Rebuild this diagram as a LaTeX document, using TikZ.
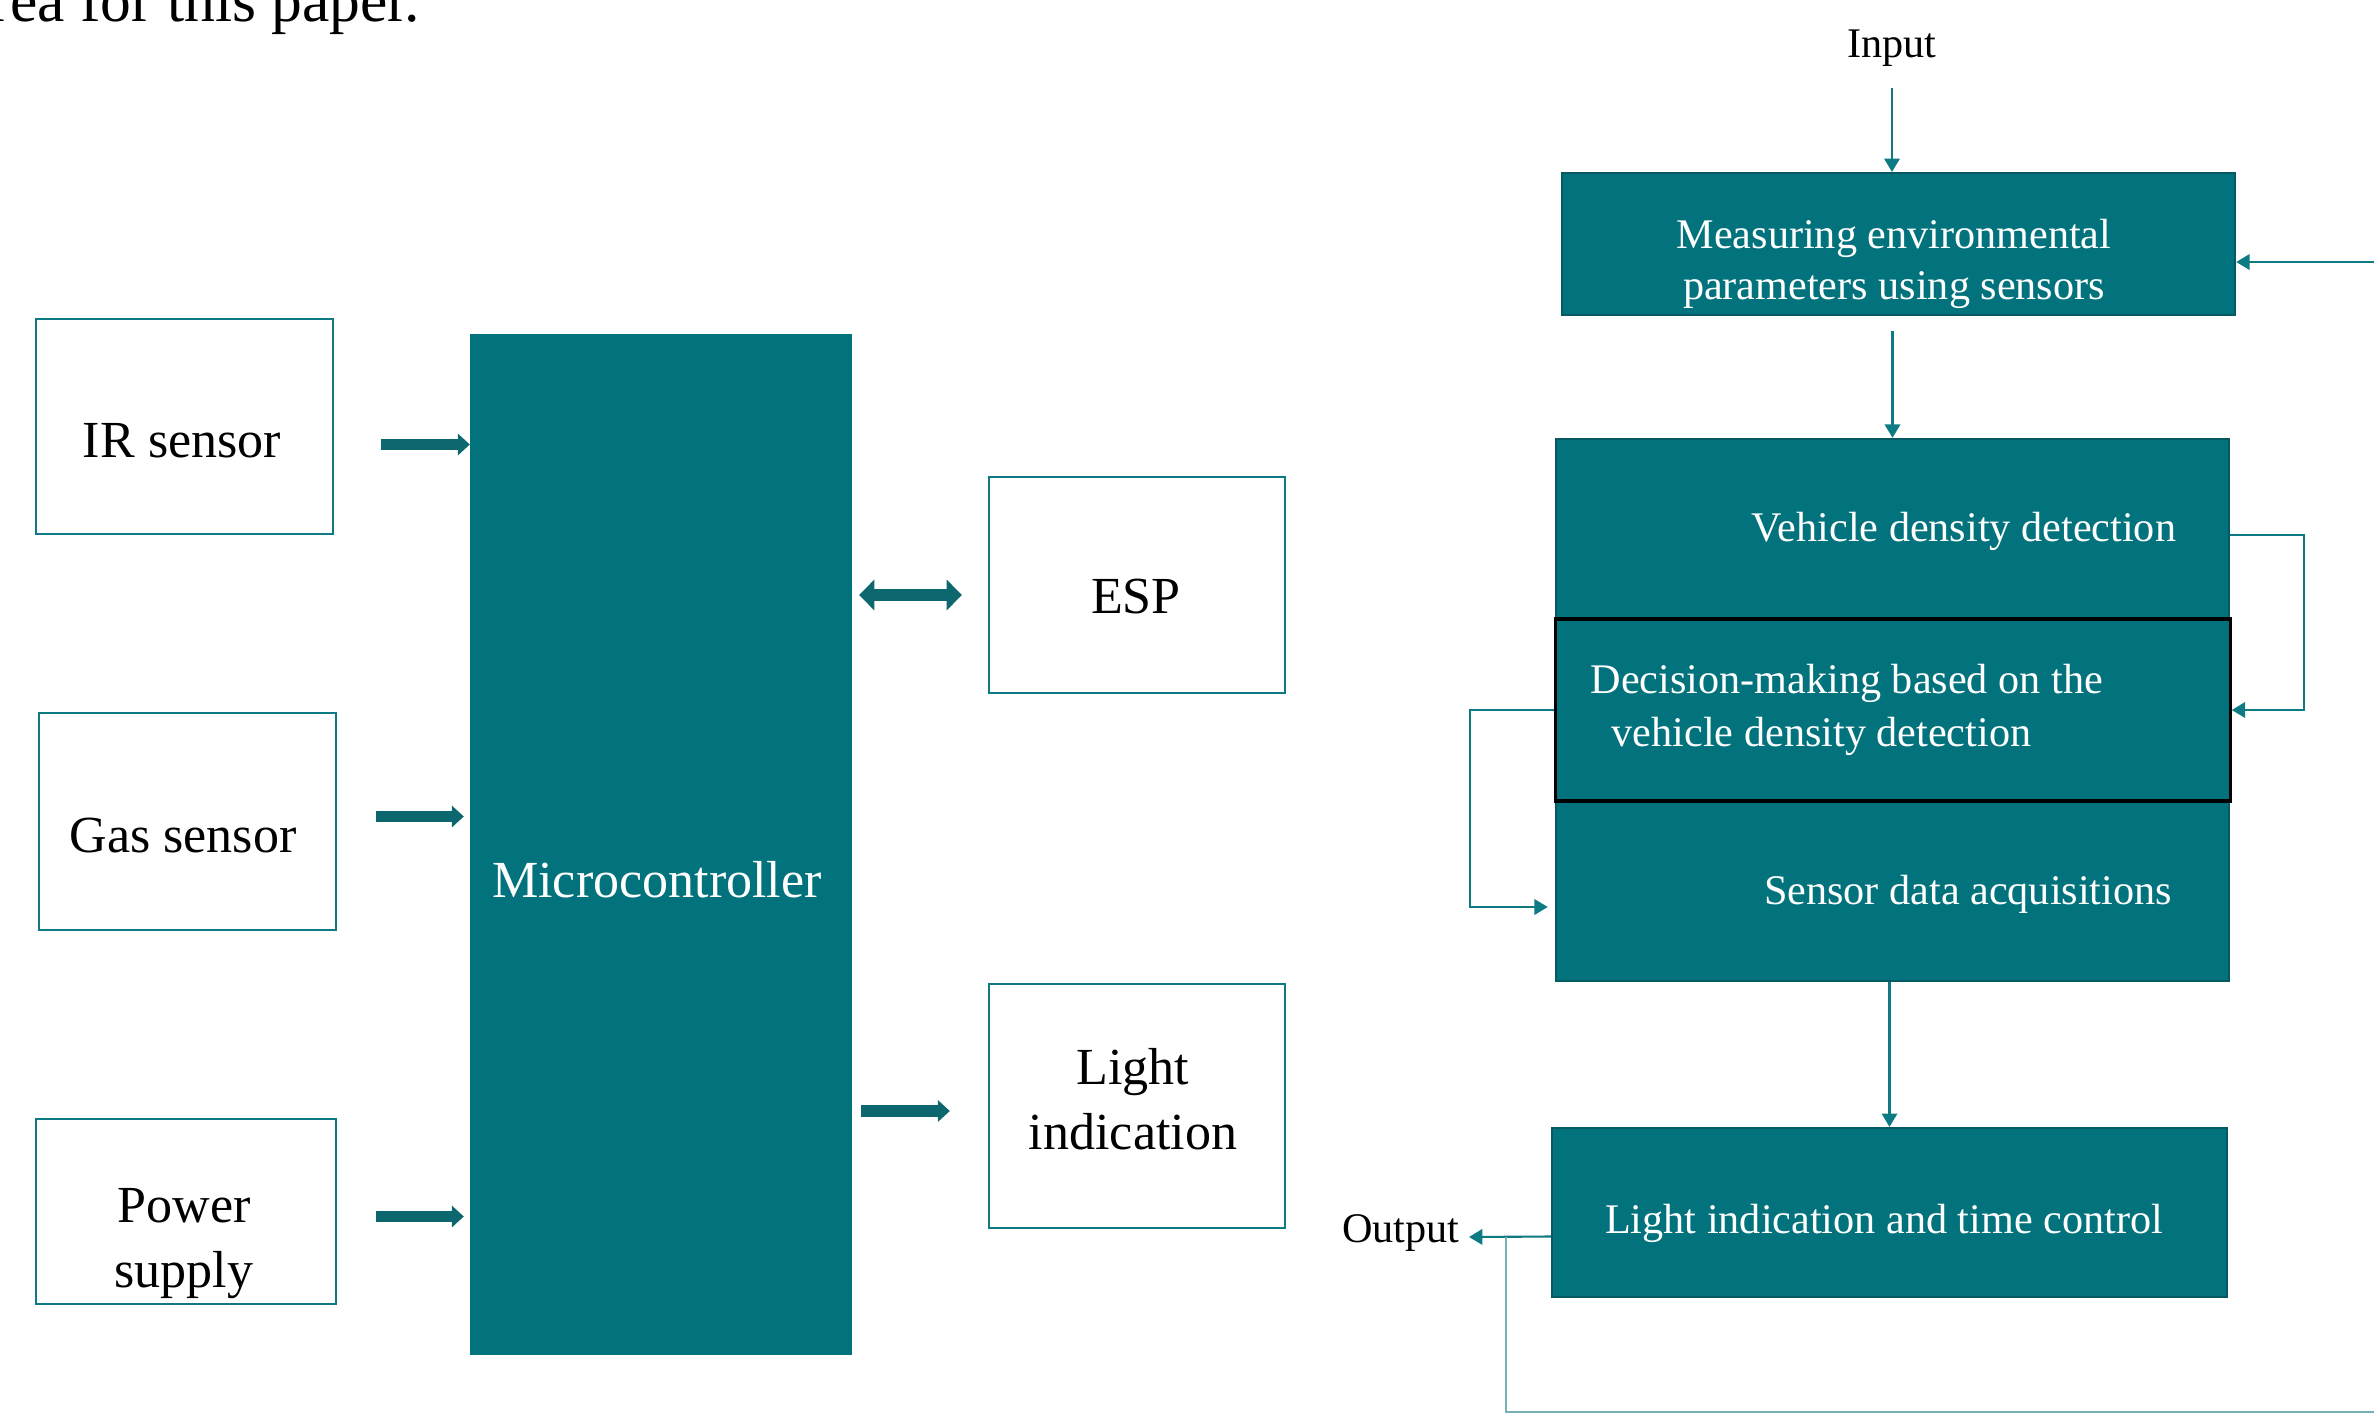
\documentclass[tikz,border=0pt]{standalone}
\usepackage{fontspec}
\setmainfont{Liberation Serif}
\usetikzlibrary{arrows.meta,positioning,calc}
\definecolor{tealfill}{RGB}{2,115,125}
\definecolor{tealedge}{RGB}{5,90,97}
\definecolor{tealline}{RGB}{14,122,132}
\definecolor{tealfat}{RGB}{13,103,110}
\definecolor{tealpale}{RGB}{120,176,183}

\begin{document}
\begin{tikzpicture}[
  x=0.01cm, y=-0.01cm,
  every node/.style={align=center, inner sep=0pt},
  lbig/.style={font=\fontsize{14.8}{18.5}\selectfont},
  rsmall/.style={font=\fontsize{12}{14.6}\selectfont},
  sensorbox/.style={draw=tealline, line width=0.6pt, fill=white},
  tealbox/.style={draw=tealedge, line width=0.6pt, fill=tealfill},
  wtext/.style={text=white},
  fat/.style={draw=tealfat, line width=3.4pt, -{Triangle[length=3.4pt,width=6pt]}},
  fatboth/.style={draw=tealfat, line width=3.4pt, {Triangle[length=4.3pt,width=8.5pt]}-{Triangle[length=4.3pt,width=8.5pt]}},
  flow/.style={draw=tealline, line width=0.6pt, -{Triangle[length=3.8pt,width=4.4pt]}},
  >=Stealth
]
\useasboundingbox (0,0) rectangle (2374,1414);
\clip (0,0) rectangle (2374,1414);

\node[font=\fontsize{17.5}{21}\selectfont, anchor=base east] (prevline) at (421,21) {area for this paper.};

\node[sensorbox, minimum width=2.97cm, minimum height=2.15cm] (ir) at (184.5,426.5) {};
\node[sensorbox, minimum width=2.97cm, minimum height=2.17cm] (gas) at (187.5,821.5) {};
\node[sensorbox, minimum width=3.00cm, minimum height=1.85cm] (power) at (186,1211.5) {};
\node[tealbox, draw=tealfill, minimum width=3.80cm, minimum height=10.19cm] (mcu) at (661,844.5) {};
\node[sensorbox, minimum width=2.96cm, minimum height=2.16cm] (esp) at (1137,585) {};
\node[sensorbox, minimum width=2.96cm, minimum height=2.44cm] (light) at (1137,1106) {};

\node[lbig] (irtext) at (182,441) {IR sensor};
\node[lbig] (gastext) at (183,836) {Gas sensor};
\node[lbig] (powertext) at (184,1244) {Power\\supply};
\node[lbig, wtext] (mcutext) at (657,880) {Microcontroller};
\node[lbig] (esptext) at (1136,597) {ESP};
\node[lbig] (lighttext) at (1133,1099) {Light\\indication};

\draw[fat, shorten <=0.47cm] ($(ir.east)+(0,18)$) -- ($(ir.east -| mcu.west)+(0,18)$);
\draw[fat, shorten <=0.39cm, shorten >=0.06cm] ($(gas.east)+(0,-5)$) -- ($(gas.east -| mcu.west)+(0,-5)$);
\draw[fat, shorten <=0.39cm, shorten >=0.06cm] ($(power.east)+(0,5)$) -- ($(power.east -| mcu.west)+(0,5)$);
\draw[fatboth, shorten <=0.07cm, shorten >=0.26cm] ($(esp.west -| mcu.east)+(0,10)$) -- ($(esp.west)+(0,10)$);
\draw[fat, shorten <=0.09cm, shorten >=0.38cm] ($(light.west -| mcu.east)+(0,5)$) -- ($(light.west)+(0,5)$);

\node[tealbox, minimum width=6.73cm, minimum height=1.42cm] (measure) at (1898.5,244) {};
\node[tealbox, minimum width=6.73cm, minimum height=5.42cm] (big) at (1892.5,710) {};
\node[tealbox, draw=black, line width=0.9pt, minimum width=6.74cm, minimum height=1.82cm] (decision) at (1893,710) {};
\node[tealbox, minimum width=6.75cm, minimum height=1.69cm] (ltc) at (1889.5,1212.5) {};

\node[rsmall] (input) at (1892,48) {Input};
\node[rsmall, wtext] (meastext) at (1894,264) {Measuring environmental\\parameters using sensors};
\node[rsmall, wtext] (vdd) at (1964,531) {Vehicle density detection};
\node[rsmall, wtext, align=left, anchor=west, font=\fontsize{12}{15}\selectfont] (dectext) at (1590,710) {Decision-making based on the\\\hspace*{6pt}vehicle density detection};
\node[rsmall, wtext] (sda) at (1968,894) {Sensor data acquisitions};
\node[rsmall, wtext] (ltctext) at (1884,1223) {Light indication and time control};
\node[rsmall, anchor=base east] (output) at (1460,1242) {Output};

\draw[flow, shorten <=0.21cm] (input.south) -- (input.south |- measure.north);
\draw[flow, shorten <=0.15cm] (big.north |- measure.south) -- (big.north);
\draw[flow] (ltc.north |- big.south) -- (ltc.north);
\draw[flow] ($(big.north east)+(0,97)$) -- ++(74,0) |- (decision.east);
\draw[flow, shorten >=0.07cm] (decision.west) -- ++(-84,0) |- ($(big.west)+(0,197)$);
\draw[flow] ($(ltc.west)+(0,24)$) -- ($(output.base east)+(9,-5)$);

\coordinate (tap) at (1506,1237);
\coordinate (edgeb) at (2374,1412);
\draw[draw=tealpale, line width=0.45pt] (tap) |- (edgeb);
\coordinate (edget) at (2374,262);
\draw[flow] (edget) -- (edget -| measure.east);
\end{tikzpicture}
\end{document}
